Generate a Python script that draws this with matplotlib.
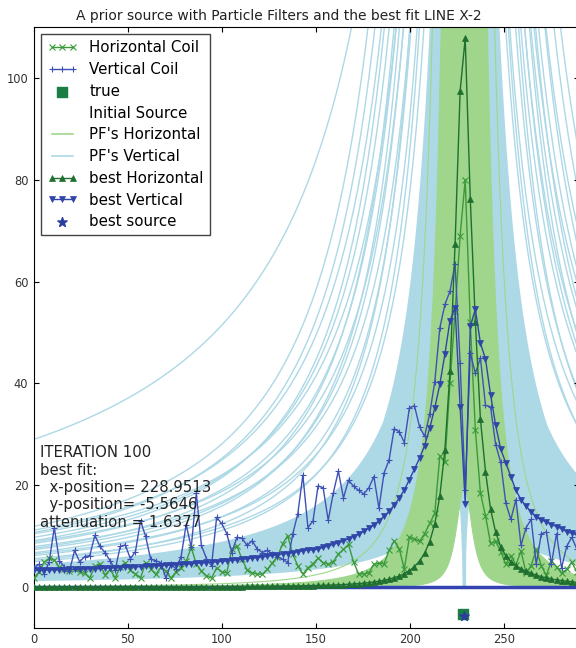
import numpy as np
import matplotlib
matplotlib.use('Agg')
import matplotlib.pyplot as plt
from matplotlib.lines import Line2D

# survey stations along the line
x_pos = np.arange(108) * 2.7

horizontal_coil = [
    1.8, 3.0, 4.9, 5.7, 5.3, 3.9, 3.5, 3.1, 3.6, 3.0,
    2.7, 1.8, 4.1, 4.5, 2.4, 3.5, 1.8, 4.0, 4.8, 3.3,
    2.6, 1.8, 4.8, 3.6, 2.5, 3.9, 3.2, 1.8, 3.0, 3.8,
    5.1, 7.8, 4.5, 3.2, 2.2, 1.8, 3.8, 3.0, 2.8, 7.5,
    8.1, 5.5, 3.4, 2.8, 2.6, 2.5, 3.5, 4.8, 6.0, 8.5,
    10.1, 6.5, 4.2, 2.6, 3.8, 4.6, 5.7, 4.8, 4.5, 5.0,
    6.5, 7.4, 8.4, 4.9, 2.6, 2.6, 2.8, 4.5, 4.7, 4.6,
    7.2, 9.1, 7.5, 3.6, 9.8, 9.5, 9.0, 10.5, 12.5, 14.5,
    25.8, 24.5, 40.0, 54.0, 69.0, 80.0, 52.0, 30.9, 18.5, 14.0,
    8.6, 9.0, 7.0, 4.5, 6.2, 4.4, 7.1, 2.8, 4.2, 7.4,
    4.2, 2.3, 5.2, 4.0, 2.7, 3.5, 4.9, 3.0]

vertical_coil = [
    3.8, 4.5, 2.6, 5.0, 11.7, 5.2, 4.0, 3.2, 7.2, 5.0,
    6.0, 6.2, 10.2, 8.0, 6.8, 5.2, 3.4, 8.0, 8.3, 5.6,
    7.0, 13.0, 10.0, 5.5, 5.2, 4.8, 1.8, 4.5, 3.6, 6.0,
    12.3, 7.8, 18.5, 8.2, 5.6, 4.2, 13.7, 12.5, 10.5, 6.8,
    9.8, 9.6, 8.2, 9.1, 7.5, 6.8, 7.2, 6.5, 6.0, 5.5,
    4.8, 10.4, 14.4, 22.0, 11.7, 13.0, 19.9, 19.5, 13.1, 18.5,
    22.8, 17.5, 21.0, 19.8, 19.0, 18.3, 19.5, 21.7, 15.5, 22.4,
    25.0, 31.1, 30.5, 28.4, 35.2, 35.6, 31.5, 29.6, 34.0, 40.3,
    50.9, 55.5, 58.1, 63.5, 44.0, 19.0, 46.0, 42.0, 45.0, 35.7,
    35.4, 28.0, 24.5, 16.5, 13.3, 17.2, 8.2, 11.7, 13.3, 4.5,
    10.5, 10.8, 4.6, 10.5, 3.8, 8.0, 9.8, 7.5]

best_horizontal = [
    0.02, 0.03, 0.03, 0.03, 0.03, 0.03, 0.03, 0.03, 0.03, 0.03,
    0.03, 0.04, 0.04, 0.04, 0.04, 0.04, 0.04, 0.04, 0.05, 0.05,
    0.05, 0.05, 0.05, 0.06, 0.06, 0.06, 0.06, 0.07, 0.07, 0.07,
    0.07, 0.08, 0.08, 0.09, 0.09, 0.10, 0.10, 0.11, 0.11, 0.12,
    0.12, 0.13, 0.14, 0.15, 0.16, 0.17, 0.18, 0.19, 0.20, 0.21,
    0.22, 0.24, 0.26, 0.28, 0.30, 0.32, 0.34, 0.37, 0.39, 0.42,
    0.46, 0.51, 0.57, 0.63, 0.70, 0.79, 0.89, 1.02, 1.16, 1.35,
    1.56, 1.84, 2.19, 2.66, 3.23, 4.03, 5.12, 6.67, 8.94, 12.4,
    17.9, 27.0, 42.4, 67.3, 97.4, 107.8, 76.3, 52.0, 33.0, 22.7,
    15.3, 10.8, 7.9, 6.2, 5.0, 4.2, 3.6, 3.1, 2.7, 2.35,
    2.05, 1.8, 1.6, 1.42, 1.28, 1.15, 1.04, 0.95]

best_vertical = [
    3.30, 3.32, 3.35, 3.37, 3.40, 3.43, 3.46, 3.49, 3.52, 3.55,
    3.59, 3.62, 3.66, 3.69, 3.73, 3.77, 3.81, 3.85, 3.89, 3.93,
    3.98, 4.03, 4.08, 4.13, 4.18, 4.23, 4.29, 4.35, 4.41, 4.47,
    4.53, 4.60, 4.67, 4.74, 4.82, 4.90, 4.98, 5.07, 5.17, 5.26,
    5.36, 5.47, 5.58, 5.70, 5.82, 5.95, 6.09, 6.24, 6.40, 6.56,
    6.60, 6.78, 6.96, 7.15, 7.35, 7.30, 7.53, 7.79, 8.08, 8.38,
    8.72, 9.09, 9.48, 9.93, 10.41, 10.97, 11.57, 12.25, 13.03, 13.90,
    14.9, 16.1, 17.5, 19.1, 21.1, 23.2, 25.3, 27.8, 31.2, 35.2,
    39.8, 45.8, 52.3, 54.9, 35.4, 16.4, 51.2, 54.6, 47.9, 44.8,
    37.8, 31.8, 27.1, 24.4, 21.7, 19.0, 17.2, 15.9, 14.8, 13.8,
    13.2, 12.8, 12.3, 11.9, 11.5, 10.9, 10.6, 10.3]

baseline = np.zeros(len(x_pos))

true_source = (228.3, -5.3)
best_source = (228.9513, -5.5646)

# particle filter population, vertical response
# dense cloud of particles (drawn as a filled band)
cloud_x = [229.0, 228.7, 229.3, 228.5, 229.1, 229.5, 228.8, 229.2, 228.6,
           229.0, 229.4, 228.9, 228.4, 229.3, 229.0, 228.7, 229.1,
           229.2, 228.8, 229.0]
cloud_depth = [6.0, 5.5, 6.2, 6.5, 5.8, 6.0, 6.4, 5.6, 6.0,
               6.6, 6.0, 5.4, 6.2, 6.8, 6.0, 5.9, 6.3,
               7.0, 6.5, 6.2]
cloud_strength = [275, 321, 1086, 413, 1358, 504, 1630, 1765, 642,
                  2037, 2173, 779, 2444, 2580, 917, 2852, 3056,
                  14000, 8625, 4018]
cloud_decay = [1.0, 1.0, 1.1, 1.0, 1.1, 1.0, 1.1, 1.1, 1.0,
               1.1, 1.1, 1.0, 1.1, 1.1, 1.0, 1.1, 1.1,
               1.3, 1.25, 1.2]
# outlying particles (drawn as single curves)
spread_x = [228.8, 229.3, 228.5, 229.1, 228.9, 229.6, 228.6, 229.2, 228.8,
            229.4, 228.7, 229.0, 228.9, 229.0, 228.6, 229.3, 228.9, 229.1]
spread_depth = [6.5, 6.0, 7.0, 6.8, 6.2, 6.0, 7.2, 7.0, 6.6,
                6.4, 7.0, 7.5, 6.0, 6.8, 6.3, 7.2, 6.1, 7.4]
spread_strength = [10045, 6563, 12456, 23460, 14867, 9376, 17277, 31740,
                   19688, 12306, 22500, 41400, 6647, 18285, 7618, 26565,
                   10431, 37260]
spread_decay = [1.2, 1.15, 1.2, 1.25, 1.2, 1.15, 1.2, 1.25, 1.2,
                1.15, 1.2, 1.25, 1.0, 1.25, 1.15, 1.25, 1.15, 1.25]

# particle filter population, horizontal response
h_x = [229.0, 228.7, 229.3, 228.9, 229.1, 228.6, 229.4, 228.8, 229.2, 229.0,
       228.5, 229.3, 228.9, 229.1, 228.7, 229.4, 229.0, 228.8, 229.2, 229.0,
       228.6]
h_width = [5.8, 6.2, 5.9, 6.0, 6.3, 5.8, 6.1, 6.4, 6.0, 6.2,
           6.5, 5.9, 6.3, 6.0, 6.4, 6.1, 6.2, 6.0, 6.3, 6.1, 7.5]
h_peak = [20, 28, 38, 50, 65, 80, 100, 125, 150, 180,
          215, 255, 300, 350, 410, 480, 560, 650, 760, 900, 1100]

x_fine = np.linspace(0, 290, 1451)


def vertical_response(c, d, a, p):
    dx = x_fine - c
    return a * np.abs(dx) / (dx ** 2 + d ** 2) ** p


def horizontal_response(c, w, peak):
    dx = x_fine - c
    return peak * (w ** 2 / (dx ** 2 + w ** 2)) ** 1.3


fig = plt.figure(figsize=(5.76, 6.48), dpi=100)
ax = fig.add_axes([0.059, 0.031, 0.946, 0.9275])

PF_BLUE = '#add8e6'
PF_GREEN = '#9fd68c'

cloud = np.array([vertical_response(*p) for p in
                  zip(cloud_x, cloud_depth, cloud_strength, cloud_decay)])
ax.fill_between(x_fine, cloud.min(axis=0), cloud.max(axis=0),
                color=PF_BLUE, lw=0, zorder=1)
for p in zip(spread_x, spread_depth, spread_strength, spread_decay):
    ax.plot(x_fine, vertical_response(*p), color=PF_BLUE, lw=1, zorder=1)

hcurves = np.array([horizontal_response(*p) for p in
                    zip(h_x, h_width, h_peak)])
ax.fill_between(x_fine, hcurves[:-1].min(axis=0), hcurves[:-1].max(axis=0),
                color=PF_GREEN, lw=0, zorder=1.5)
for hc in hcurves:
    ax.plot(x_fine, hc, color=PF_GREEN, lw=0.8, zorder=1.5)

ax.plot(x_pos, baseline, color='#3344b0', lw=2.5, zorder=2)

ax.plot(x_pos, horizontal_coil, color='#3a9a3a', marker='x', ms=4, mew=0.8,
        lw=1, label='Horizontal Coil', zorder=3)
ax.plot(x_pos, vertical_coil, color='#3f51b5', marker='+', ms=5, mew=0.8,
        lw=1, label='Vertical Coil', zorder=3)
ax.scatter([true_source[0]], [true_source[1]], marker='s', s=45,
           color='#1b7f45', label='true', zorder=5)
ax.plot(x_pos, best_horizontal, color='#1f6f2f', marker='^', ms=5, mew=0.5,
        lw=1, label='best Horizontal', zorder=4)
ax.plot(x_pos, best_vertical, color='#2f45a8', marker='v', ms=5, mew=0.5,
        lw=1, label='best Vertical', zorder=4)
ax.scatter([best_source[0]], [best_source[1]], marker='*', s=50,
           color='#2c3e9c', label='best source', zorder=6)

ax.set_xlim(0, 290)
ax.set_ylim(-8, 110)
ax.set_xticks([0, 50, 100, 150, 200, 250])
ax.set_yticks([0, 20, 40, 60, 80, 100])
ax.tick_params(direction='in', top=True, right=True, labelsize=8.3,
               labelcolor='#333333', pad=4)
ax.set_title('A prior source with Particle Filters and the best fit LINE X-2',
             fontsize=10, color='#222222', pad=5, x=0.45)

handles, labels = ax.get_legend_handles_labels()
hmap = dict(zip(labels, handles))
hmap['Initial Source'] = Line2D([], [], color='white')
hmap["PF's Horizontal"] = Line2D([], [], color=PF_GREEN, lw=1.2)
hmap["PF's Vertical"] = Line2D([], [], color=PF_BLUE, lw=1.2)
order = ['Horizontal Coil', 'Vertical Coil', 'true', 'Initial Source',
         "PF's Horizontal", "PF's Vertical", 'best Horizontal',
         'best Vertical', 'best source']
leg = ax.legend([hmap[k] for k in order], order, loc='upper left',
                numpoints=3, scatterpoints=1, fontsize=10.8, fancybox=False,
                framealpha=1, edgecolor='#444444', labelspacing=0.45,
                handlelength=2.0, handletextpad=0.8, borderpad=0.4,
                borderaxespad=0.5)
leg.set_zorder(10)
leg.get_frame().set_linewidth(1.0)

ax.text(0.011, 0.304,
        'ITERATION 100\nbest fit:\n  x-position= 228.9513\n'
        '  y-position= -5.5646\nattenuation = 1.6377',
        transform=ax.transAxes, va='top', ha='left', fontsize=10.7,
        color='#222222', linespacing=1.2, zorder=9)

fig.savefig('out.png', dpi=100)
